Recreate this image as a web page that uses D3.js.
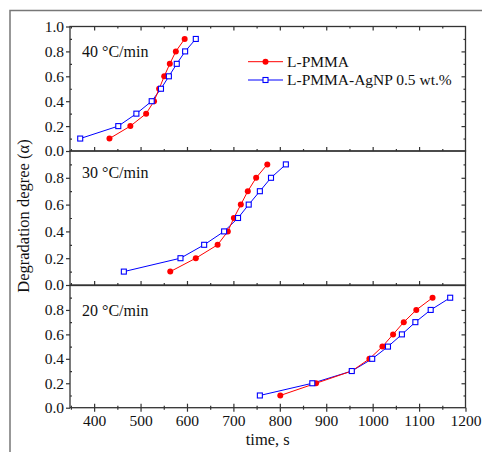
<!DOCTYPE html>
<html><head><meta charset="utf-8">
<script src="https://cdn.jsdelivr.net/npm/d3@7"></script>
<style>
html,body{margin:0;padding:0;background:#fff;}
svg, svg text{font-family:"Liberation Serif","Times New Roman",serif !important;}
svg{display:block;}
</style></head>
<body>
<svg id="chart" width="482" height="452"></svg>
<script>
// ---------- data ----------
const rates = ["40 °C/min", "30 °C/min", "20 °C/min"];
const seriesNames = ["L-PMMA", "L-PMMA-AgNP 0.5 wt.%"];
const alphaLevels = [0.1, 0.2, 0.3, 0.4, 0.5, 0.6, 0.7, 0.8, 0.9];
const lpmma40 = [433, 478, 512, 529, 540, 551, 563, 576, 595];
const agnp40  = [370, 452, 491, 524, 544, 561, 578, 596, 619];
const lpmma30 = [564, 619, 666, 688, 701, 716, 731, 749, 773];
const agnp30  = [464, 586, 637, 680, 710, 733, 757, 781, 813];
const lpmma20 = [801, 878, 955, 993, 1021, 1044, 1067, 1094, 1129];
const agnp20  = [757, 870, 955, 999, 1033, 1063, 1092, 1125, 1167];
const xTickValues = [400, 500, 600, 700, 800, 900, 1000, 1100, 1200];
const yTickValues = [0, 0.2, 0.4, 0.6, 0.8, 1.0];
const xLabel = "time, s";
const yLabel = "Degradation degree (α)";

const panelData = [
  {rate: rates[0], a: lpmma40, b: agnp40},
  {rate: rates[1], a: lpmma30, b: agnp30},
  {rate: rates[2], a: lpmma20, b: agnp20}
];

// ---------- layout ----------
const left = 70, right = 465.5;
const panelRanges = [[151, 26.5], [285, 151], [407.7, 285.5]];
const red = "#ff0000", blue = "#0000ff", axisCol = "#333";
const FONT = "'Liberation Serif','Times New Roman',serif";
const svg = d3.select("#chart");

// outer frame (left & top edges visible)
svg.append("path").attr("d", "M10,460 L10,10.5 L490,10.5")
  .attr("fill", "none").attr("stroke", "#777").attr("stroke-width", 1.5);

const x = d3.scaleLinear().domain([348, 1200]).range([left, right]);
const xMinor = d3.range(350, 1201, 50).filter(v => v % 100 !== 0);
const yMinor = [0.1, 0.3, 0.5, 0.7, 0.9];

panelData.forEach((p, i) => {
  const [y0, y1] = panelRanges[i];
  const y = d3.scaleLinear().domain([0, 1]).range([y0, y1]);
  const g = svg.append("g");
  const isTop = i === 0, isBottom = i === 2;

  const yTicks = isTop ? yTickValues : yTickValues.slice(0, 5);
  g.append("g").attr("transform", `translate(${left},0)`)
    .call(d3.axisLeft(y).tickValues(yTicks).tickFormat(d3.format(".1f")).tickSize(4).tickPadding(2));
  g.append("g").attr("transform", `translate(${left},0)`)
    .call(d3.axisRight(y).tickValues(yMinor).tickFormat("").tickSize(2));
  g.append("g").attr("transform", `translate(${right},0)`)
    .call(d3.axisLeft(y).tickValues(yTickValues.slice(1, 5)).tickFormat("").tickSize(4));
  g.append("g").attr("transform", `translate(${right},0)`)
    .call(d3.axisLeft(y).tickValues(yMinor).tickFormat("").tickSize(2));
  g.append("g").attr("transform", `translate(0,${y0})`)
    .call(d3.axisTop(x).tickValues(xTickValues.slice(0, 8)).tickFormat("").tickSize(4));
  g.append("g").attr("transform", `translate(0,${y0})`)
    .call(d3.axisTop(x).tickValues(xMinor).tickFormat("").tickSize(2));
  if (isBottom) {
    g.append("g").attr("transform", `translate(0,${y0})`)
      .call(d3.axisBottom(x).tickValues(xTickValues).tickFormat(d3.format("d")).tickSize(4).tickPadding(3));
    g.append("g").attr("transform", `translate(0,${y0})`)
      .call(d3.axisBottom(x).tickValues(xMinor).tickFormat("").tickSize(2));
  }
  if (isTop) {
    g.append("g").attr("transform", `translate(0,${y1})`)
      .call(d3.axisBottom(x).tickValues(xTickValues.slice(0, 8)).tickFormat("").tickSize(4));
    g.append("g").attr("transform", `translate(0,${y1})`)
      .call(d3.axisBottom(x).tickValues(xMinor).tickFormat("").tickSize(2));
  }
  g.append("rect").attr("x", left).attr("y", y1).attr("width", right - left).attr("height", y0 - y1)
    .attr("fill", "none").attr("stroke", axisCol).attr("stroke-width", 1.3);

  g.selectAll(".domain").remove();
  g.selectAll("g").attr("font-family", null).attr("font-size", null);
  g.selectAll(".tick line").attr("stroke", axisCol).attr("stroke-width", 1.2);
  g.selectAll(".tick text").style("font-family", FONT)
    .style("font-size", "15.5px").attr("fill", "#111");

  g.append("text").attr("x", 82).attr("y", [57, 178.3, 316][i])
    .style("font-family", FONT).style("font-size", "16px").attr("fill", "#111").text(p.rate);

  const line = d3.line().x(d => x(d[0])).y(d => y(d[1]));
  const ptsA = p.a.map((t, k) => [t, alphaLevels[k]]);
  const ptsB = p.b.map((t, k) => [t, alphaLevels[k]]);
  g.append("path").datum(ptsB).attr("d", line).attr("fill", "none").attr("stroke", blue).attr("stroke-width", 1);
  g.append("path").datum(ptsA).attr("d", line).attr("fill", "none").attr("stroke", red).attr("stroke-width", 1);
  g.selectAll(".ca").data(ptsA).join("circle")
    .attr("cx", d => x(d[0])).attr("cy", d => y(d[1])).attr("r", 3).attr("fill", red);
  g.selectAll(".sb").data(ptsB).join("rect")
    .attr("x", d => x(d[0]) - 2.5).attr("y", d => y(d[1]) - 2.5).attr("width", 5).attr("height", 5)
    .attr("fill", "#fff").attr("stroke", blue).attr("stroke-width", 1.1);
});

// legend
const legY = [61.7, 80];
seriesNames.forEach((name, k) => {
  const lg = svg.append("g");
  const col = k === 0 ? red : blue;
  lg.append("line").attr("x1", 248).attr("x2", 283).attr("y1", legY[k]).attr("y2", legY[k])
    .attr("stroke", col).attr("stroke-width", 1);
  if (k === 0) lg.append("circle").attr("cx", 265.5).attr("cy", legY[k]).attr("r", 3).attr("fill", red);
  else lg.append("rect").attr("x", 263).attr("y", legY[k] - 2.5).attr("width", 5).attr("height", 5)
    .attr("fill", "#fff").attr("stroke", blue).attr("stroke-width", 1.1);
  lg.append("text").attr("x", 287).attr("y", legY[k] + 5).style("font-family", FONT)
    .style("font-size", "15.5px").attr("fill", "#111").text(name);
});

svg.append("text").attr("x", (left + right) / 2).attr("y", 445).attr("text-anchor", "middle")
  .style("font-family", FONT).style("font-size", "16.5px").attr("fill", "#111").text(xLabel);
svg.append("text").attr("transform", "translate(29,216) rotate(-90)").attr("text-anchor", "middle")
  .style("font-family", FONT).style("font-size", "16.5px").attr("fill", "#111").text(yLabel);
</script>
</body></html>
